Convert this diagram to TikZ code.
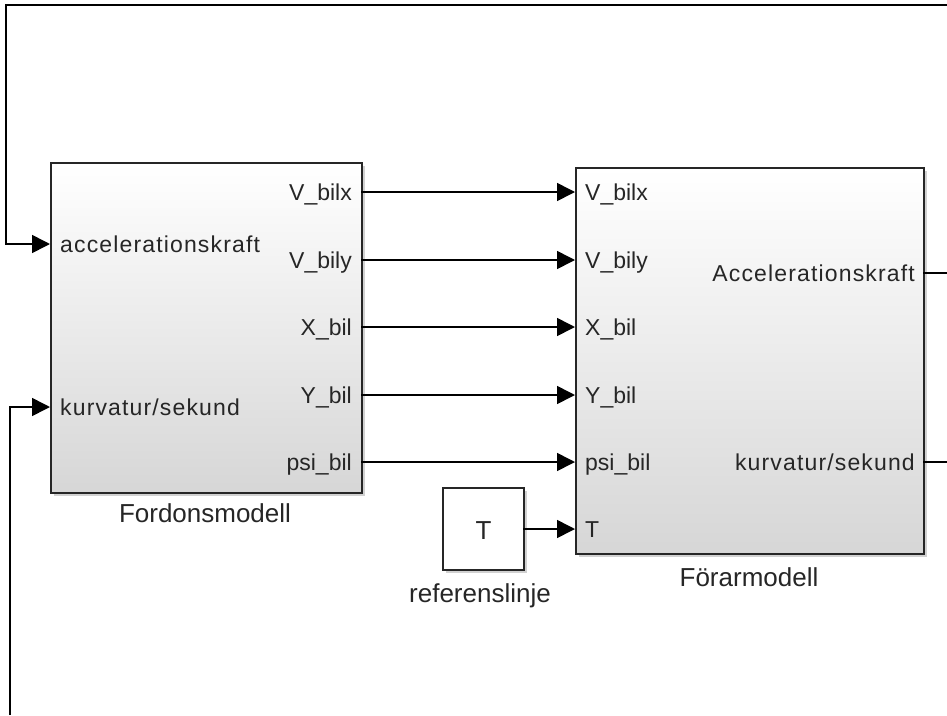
\documentclass[tikz,border=0pt]{standalone}
\usepackage{fontspec}
\setmainfont{Liberation Sans}
\usetikzlibrary{arrows.meta,shadows,calc}

\begin{document}
\begin{tikzpicture}[x=1pt,y=-1pt,
  block/.style={draw=black!85, line width=2pt, top color=white, bottom color=black!16,
    drop shadow={shadow xshift=3pt,shadow yshift=-3pt,opacity=0.3,fill=black!60},
    anchor=north west, inner sep=0pt},
  plainblock/.style={draw=black!85, line width=2pt, fill=white,
    drop shadow={shadow xshift=3pt,shadow yshift=-3pt,opacity=0.3,fill=black!60},
    anchor=north west, inner sep=0pt},
  wire/.style={line width=1.6pt, black},
  sig/.style={wire, -{Triangle[length=18pt,width=18pt]}},
  portlbl/.style={font=\fontsize{23}{26}\selectfont, inner sep=0pt, text=black!85},
  spaced/.style={font=\fontsize{23}{26}\selectfont\addfontfeature{LetterSpace=5}},
  title/.style={font=\fontsize{26}{30}\selectfont, inner sep=0pt, text=black!85}
]
\useasboundingbox (0,0) rectangle (947,715);

% blocks
\node[block, minimum width=311pt, minimum height=330pt] (F) at (50,162) {};
\node[block, minimum width=348pt, minimum height=386pt] (G) at (575,167) {};
\node[plainblock, minimum width=81pt, minimum height=82pt] (T) at (442,487) {};
\node[title, anchor=base] at ($(T.center)+(0,10)$) {T};

% block names
\node[title, anchor=base] (Fname) at (205,522) {Fordonsmodell};
\node[title, anchor=base] (Gname) at (749,586) {Förarmodell};
\node[title, anchor=base] (Tname) at (480,602) {referenslinje};

% ports of Fordonsmodell
\coordinate (F-in1) at (50,244);
\coordinate (F-in2) at (50,407);
\foreach \i/\y in {1/192,2/260,3/327,4/395,5/462}
  \coordinate (F-out\i) at (361,\y);
% ports of Förarmodell
\foreach \i/\y in {1/192,2/260,3/327,4/395,5/462,6/529}
  \coordinate (G-in\i) at (575,\y);
\coordinate (G-out1) at (923,273);
\coordinate (G-out2) at (923,462);
\coordinate (T-out) at (523,529);

% port labels
\node[portlbl, spaced, anchor=base west] at (60,252.5) {accelerationskraft};
\node[portlbl, spaced, anchor=base west] at (60,415.5) {kurvatur/sekund};
\foreach \y/\t in {192/V\_bilx,260/V\_bily,327/X\_bil,395/Y\_bil,462/psi\_bil}
  \node[portlbl, anchor=base east] at (352,\y+8.5) {\t};
\foreach \y/\t in {192/V\_bilx,260/V\_bily,327/X\_bil,395/Y\_bil,462/psi\_bil,529/T}
  \node[portlbl, anchor=base west] at (585,\y+8.5) {\t};
\node[portlbl, spaced, anchor=base east] at (915,281.5) {Accelerationskraft};
\node[portlbl, spaced, anchor=base east] at (915,470.5) {kurvatur/sekund};

% signal lines between the models
\foreach \i in {1,...,5}
  \draw[sig] (F-out\i) -- (G-in\i);
\draw[sig] (T-out) -- (G-in6);

% feedback lines leaving and re-entering the view
\coordinate (edgeA) at (947,273);
\coordinate (edgeB) at (947,462);
\coordinate (topR) at (947,5);
\coordinate (cornerA) at (6,5);
\coordinate (botL) at (10,715);
\draw[wire] (G-out1) -- (edgeA);
\draw[wire] (G-out2) -- (edgeB);
\draw[sig] (topR) -- (cornerA) |- (F-in1);
\draw[sig] (botL) |- (F-in2);
\end{tikzpicture}
\end{document}
